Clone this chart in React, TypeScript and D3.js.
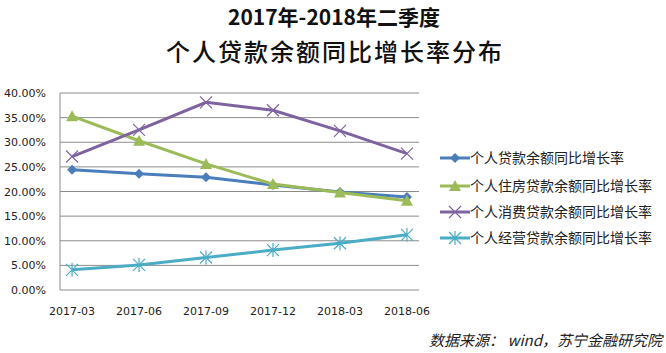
import React, { useEffect, useRef } from 'react';
import * as d3 from 'd3';

const categories = ['2017-03', '2017-06', '2017-09', '2017-12', '2018-03', '2018-06'];
const totalLoan = [24.4, 23.6, 22.9, 21.3, 19.9, 18.9];
const housingLoan = [35.3, 30.3, 25.6, 21.5, 19.8, 18.1];
const consumerLoan = [27.1, 32.5, 38.1, 36.5, 32.3, 27.7];
const businessLoan = [4.1, 5.1, 6.6, 8.1, 9.5, 11.2];
const yTicks = [0, 5, 10, 15, 20, 25, 30, 35, 40];
const seriesNames = [
  '个人贷款余额同比增长率',
  '个人住房贷款余额同比增长率',
  '个人消费贷款余额同比增长率',
  '个人经营贷款余额同比增长率',
];

const colors = ['#4a7ebb', '#9bbb59', '#7f63a1', '#4bacc6'];
const markers = ['diamond', 'triangle', 'x', 'star'];

const font = '"Noto Sans CJK SC", "Noto Sans", sans-serif';

export default function App() {
  const ref = useRef<SVGSVGElement>(null);

  useEffect(() => {
    const svg = d3.select(ref.current);
    svg.selectAll('*').remove();

    const left = 60, right = 419, top = 93, bottom = 290;
    const x = d3.scalePoint().domain(categories).range([left, right]).padding(0.18);
    const y = d3.scaleLinear().domain([0, 40]).range([bottom, top]);

    // title
    svg.append('text').attr('x', 334).attr('y', 25).attr('text-anchor', 'middle')
      .attr('font-family', font).attr('font-size', 21).attr('font-weight', 'bold')
      .attr('fill', '#111').text('2017年-2018年二季度');
    svg.append('text').attr('x', 335).attr('y', 61).attr('text-anchor', 'middle')
      .attr('font-family', font).attr('font-size', 24).attr('font-weight', 500)
      .attr('letter-spacing', 2).attr('fill', '#111').text('个人贷款余额同比增长率分布');

    // grid
    svg.append('g').selectAll('line').data(yTicks).enter().append('line')
      .attr('x1', left).attr('x2', right)
      .attr('y1', d => y(d)).attr('y2', d => y(d))
      .attr('stroke', '#8c8c8c').attr('stroke-width', 1);
    svg.append('line').attr('x1', left).attr('x2', left).attr('y1', top).attr('y2', bottom)
      .attr('stroke', '#8c8c8c');

    svg.append('g').selectAll('text').data(yTicks).enter().append('text')
      .attr('x', 46).attr('y', d => y(d) + 4).attr('text-anchor', 'end')
      .attr('font-family', 'DejaVu Sans').attr('font-size', 11).attr('fill', '#222')
      .text(d => d.toFixed(2) + '%');

    svg.append('g').selectAll('text').data(categories).enter().append('text')
      .attr('x', d => x(d)!).attr('y', 315).attr('text-anchor', 'middle')
      .attr('font-family', 'DejaVu Sans').attr('font-size', 11).attr('fill', '#222')
      .text(d => d);

    const drawMarker = (g: any, type: string, cx: number, cy: number, color: string) => {
      if (type === 'diamond') {
        g.append('path').attr('d', `M${cx},${cy - 5}L${cx + 5},${cy}L${cx},${cy + 5}L${cx - 5},${cy}Z`)
          .attr('fill', color);
      } else if (type === 'triangle') {
        g.append('path').attr('d', `M${cx},${cy - 6}L${cx + 6},${cy + 5}L${cx - 6},${cy + 5}Z`)
          .attr('fill', color);
      } else if (type === 'x') {
        g.append('path').attr('d', `M${cx - 6},${cy - 6}L${cx + 6},${cy + 6}M${cx + 6},${cy - 6}L${cx - 6},${cy + 6}`)
          .attr('stroke', color).attr('stroke-width', 1.2).attr('fill', 'none');
      } else {
        g.append('path').attr('d', `M${cx - 6},${cy - 6}L${cx + 6},${cy + 6}M${cx + 6},${cy - 6}L${cx - 6},${cy + 6}M${cx},${cy - 7}L${cx},${cy + 7}`)
          .attr('stroke', color).attr('stroke-width', 1.2).attr('fill', 'none');
      }
    };

    const allSeries = [totalLoan, housingLoan, consumerLoan, businessLoan];
    const line = d3.line<number>().x((_, i) => x(categories[i])!).y(d => y(d));
    allSeries.forEach((vals, si) => {
      const g = svg.append('g');
      g.append('path').datum(vals).attr('d', line).attr('fill', 'none')
        .attr('stroke', colors[si]).attr('stroke-width', 3);
      vals.forEach((v, i) => drawMarker(g, markers[si], x(categories[i])!, y(v), colors[si]));
    });

    // legend
    const legendY = [158, 186, 212, 238];
    seriesNames.forEach((name, i) => {
      const g = svg.append('g');
      g.append('line').attr('x1', 440).attr('x2', 470).attr('y1', legendY[i]).attr('y2', legendY[i])
        .attr('stroke', colors[i]).attr('stroke-width', 3);
      drawMarker(g, markers[i], 455, legendY[i], colors[i]);
      g.append('text').attr('x', 470).attr('y', legendY[i] + 5)
        .attr('font-family', font).attr('font-size', 14).attr('fill', '#222').text(name);
    });

    svg.append('text').attr('x', 662).attr('y', 346).attr('text-anchor', 'end')
      .attr('font-family', font).attr('font-size', 15).attr('font-style', 'italic')
      .attr('fill', '#222').text('数据来源： wind，苏宁金融研究院');
  }, []);

  return (
    <svg ref={ref} width={666} height={353}
      style={{ position: 'absolute', left: 0, top: 0, background: '#fff' }} />
  );
}
